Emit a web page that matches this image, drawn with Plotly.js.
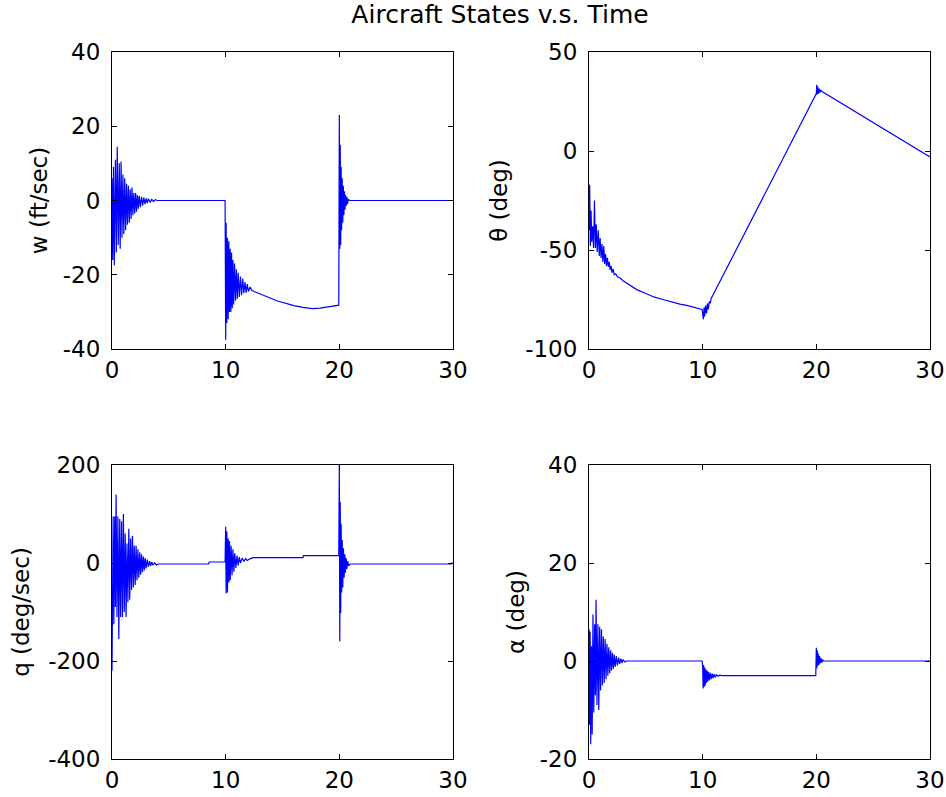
<!DOCTYPE html>
<html>
<head>
<meta charset="utf-8">
<script src="https://cdn.plot.ly/plotly-3.0.1.min.js"></script>
<style>html,body{margin:0;padding:0;background:#fff;}#chart{width:946px;height:797px;}</style>
</head>
<body>
<div id="chart"></div>
<script>
// ---- data ----
const chartTitle = 'Aircraft States v.s. Time';
const panelLabels = ['w (ft/sec)', '\u03b8 (deg)', 'q (deg/sec)', '\u03b1 (deg)'];

const timeTicks = [0, 10, 20, 30];
const wTicks = [-40, -20, 0, 20, 40];
const thetaTicks = [-100, -50, 0, 50];
const qTicks = [-400, -200, 0, 200];
const alphaTicks = [-20, 0, 20, 40];

// w (ft/sec)
const wT = [0,0.06,0.13,0.20,0.30,0.38,0.46,0.55,0.64,0.72,0.80,0.88,0.96,1.04,1.12,1.20,1.28,1.36,1.44,1.52,1.60,1.68,1.76,1.84,1.92,2.00,2.08,2.16,2.24,2.32,2.40,2.50,2.60,2.70,2.80,2.90,3.00,3.10,3.20,3.35,3.50,3.65,3.80,4.00,9.95,
  10.00,10.04,10.10,10.16,10.22,10.28,10.34,10.40,10.46,10.52,10.58,10.64,10.70,10.78,10.86,10.94,11.02,11.10,11.20,11.30,11.40,11.50,11.60,11.70,11.80,11.90,12.00,12.15,12.30,
  12.5,13.0,13.7,14.5,15.2,16.0,16.8,17.6,18.3,19.0,19.95,
  20.00,20.04,20.08,20.12,20.16,20.20,20.25,20.30,20.35,20.40,20.45,20.50,20.55,20.60,20.66,20.72,20.80,20.90,30];
const wV = [6,-16,9,-17.5,11,-14,14.5,-12,10,-13,10.5,-10,7,-9,6,-8,4.5,-6.5,4,-6,3,-5,3.5,-4,2,-3.5,2,-3,1.5,-2.2,1.2,-1.8,1,-1.3,0.8,-1,0.6,-0.7,0.5,-0.5,0.3,-0.3,0.2,0,0,
  -37.5,-6,-33,-10,-32,-11,-30,-13,-30,-14,-29,-16,-28,-17,-27,-18.5,-26.5,-19.5,-26,-20.5,-25.5,-21,-25,-22,-24.8,-22.5,-24.5,-23.3,-24.2,
  -24.5,-25.2,-26.0,-27.0,-27.7,-28.3,-28.8,-29.1,-29.0,-28.6,-28.2,
  23,-13,15,-12,9,-8,6,-6,4,-4,2.5,-2.5,1.5,-1.5,1,-1,0.4,0,0];

// theta (deg)
const thetaT = [0.00,0.06,0.12,0.18,0.24,0.32,0.40,0.48,0.56,0.64,0.72,0.82,0.90,0.98,1.06,1.14,1.22,1.30,1.38,1.46,1.54,1.62,1.70,1.78,1.86,1.94,2.02,2.12,2.22,2.35,2.50,2.70,3.00,
  3.5,4.2,5.0,5.7,6.5,7.2,8.0,8.6,9.3,9.95,
  10.06,10.12,10.18,10.26,10.34,10.42,10.50,10.58,10.66,10.75,
  20.00,20.04,20.08,20.12,20.18,20.25,20.32,20.40,20.50,30];
const thetaV = [-40,-17,-48,-30,-46,-38,-49,-25,-49,-37,-51,-40,-53,-44,-54,-47,-56,-48,-57,-52,-58,-54,-58.5,-56,-60,-58,-61.5,-59.5,-62.5,-62,-63.5,-64,-65.5,
  -67.5,-70,-72,-73.7,-75,-76.2,-77.3,-78,-79,-80,
  -85,-79,-83.5,-78,-82,-77,-80,-76,-77,-74.5,
  29,33.5,28.5,32.5,29,31.5,29.5,30.8,30,-3];

// q (deg/sec)
const qT = [0.00,0.04,0.10,0.16,0.24,0.30,0.36,0.44,0.52,0.60,0.68,0.76,0.84,0.92,1.00,1.08,1.16,1.24,1.32,1.40,1.48,1.56,1.64,1.72,1.80,1.88,1.96,2.04,2.12,2.20,2.28,2.36,2.44,2.52,2.60,2.68,2.76,2.84,2.92,3.00,3.10,3.20,3.30,3.40,3.50,3.60,3.75,3.90,4.10,4.30,8.50,8.55,9.95,
  10.00,10.04,10.10,10.16,10.22,10.28,10.34,10.40,10.48,10.56,10.64,10.72,10.80,10.90,11.00,11.10,11.20,11.30,11.45,11.60,11.75,11.90,12.10,12.40,16.80,16.85,19.95,
  20.00,20.04,20.08,20.12,20.16,20.20,20.25,20.30,20.36,20.42,20.48,20.54,20.60,20.66,20.74,20.82,20.95,29.85,29.9,30];
const qV = [-220,-130,95,-125,95,-90,140,-110,95,-155,90,-110,85,-110,100,-100,60,-110,40,-80,70,-75,50,-55,55,-50,35,-45,35,-35,28,-30,22,-24,18,-19,13,-15,10,-11,7,-8,4,-6,2,-4,0,-4,-2,-2,-2,2,2,
  74,-62,65,-60,50,-40,45,-35,35,-25,28,-18,20,-10,15,-5,12,0,10,3,9,5,8,11,11,15,15,
  200,-160,125,-102,80,-60,47,-50,30,-30,18,-20,10,-12,4,-6,-2,-2,0,-1];

// alpha (deg)
const alphaT = [0.00,0.05,0.10,0.15,0.22,0.28,0.35,0.42,0.50,0.56,0.62,0.70,0.78,0.86,0.94,1.02,1.10,1.18,1.26,1.34,1.42,1.50,1.58,1.66,1.74,1.82,1.90,1.98,2.06,2.14,2.22,2.30,2.40,2.50,2.60,2.70,2.80,2.90,3.00,3.15,3.30,9.95,
  10.00,10.04,10.08,10.12,10.17,10.22,10.28,10.34,10.40,10.46,10.52,10.60,10.68,10.76,10.84,10.92,11.00,11.10,11.20,11.35,11.50,11.70,19.95,
  20.00,20.04,20.08,20.12,20.17,20.22,20.28,20.34,20.40,20.48,20.56,20.65,30];
const alphaV = [6.5,-13,6,-17,3,-15,9.5,-10.5,7.5,-7,12.5,-9,7.5,-10,7,-6,6.5,-5,5,-4.5,4.5,-3.7,3.5,-3,2.8,-2.5,2.2,-2,1.7,-1.6,1.3,-1.2,1,-0.9,0.7,-0.6,0.5,-0.4,0.3,-0.2,0,0,
  -1,-5.6,-0.8,-5.3,-1.3,-5,-1.7,-4.5,-2,-4.2,-2.2,-3.9,-2.4,-3.7,-2.6,-3.5,-2.7,-3.3,-2.8,-3.1,-2.9,-3,-3,
  2.7,-1.5,2.2,-1,1.5,-0.8,1.0,-0.5,0.6,-0.3,0.2,0,0];

// ---- chart ----
const FONT = 'DejaVu Sans, Arial, sans-serif';
const lineStyle = {color: '#0000ff', width: 1.2};
const traces = [
  {x: wT, y: wV, xaxis: 'x', yaxis: 'y'},
  {x: thetaT, y: thetaV, xaxis: 'x2', yaxis: 'y2'},
  {x: qT, y: qV, xaxis: 'x3', yaxis: 'y3'},
  {x: alphaT, y: alphaV, xaxis: 'x4', yaxis: 'y4'}
].map(t => Object.assign(t, {type: 'scatter', mode: 'lines', line: lineStyle, hoverinfo: 'skip'}));

function axisBase(extra) {
  return Object.assign({
    showline: true, linecolor: '#000', linewidth: 1, mirror: 'ticks',
    ticks: 'inside', ticklen: 5, tickwidth: 1, tickcolor: '#000',
    showgrid: false, zeroline: false, fixedrange: true,
    tickfont: {family: FONT, size: 23, color: '#000'},
    ticklabelstandoff: 6
  }, extra);
}
function xAxis(domain, anchor) {
  return axisBase({domain: domain, anchor: anchor, range: [0, 30],
    tickmode: 'array', tickvals: timeTicks, ticktext: timeTicks.map(String),
    ticklabelstandoff: 0});
}
function yAxis(domain, anchor, range, ticks, label, standoff) {
  return axisBase({domain: domain, anchor: anchor, range: range,
    tickmode: 'array', tickvals: ticks, ticktext: ticks.map(String),
    title: {text: label, font: {family: FONT, size: 23, color: '#000'}, standoff: standoff}});
}

const W = 946, H = 797;
const leftX = [112 / W, 453 / W], rightX = [589 / W, 930 / W];
const topY = [1 - 349 / H, 1 - 52 / H], botY = [1 - 759 / H, 1 - 465 / H];

const layout = {
  width: W, height: H,
  margin: {l: 0, r: 0, t: 0, b: 0},
  paper_bgcolor: '#fff', plot_bgcolor: '#fff',
  showlegend: false, hovermode: false,
  font: {family: FONT, color: '#000'},
  title: {text: chartTitle, x: 500 / W, xanchor: 'center', y: 1 - 14 / H, yanchor: 'middle',
          font: {family: FONT, size: 25, color: '#000'}},
  xaxis: xAxis(leftX, 'y'),
  yaxis: yAxis(topY, 'x', [-40, 40], wTicks, panelLabels[0], 8),
  xaxis2: xAxis(rightX, 'y2'),
  yaxis2: yAxis(topY, 'x2', [-100, 50], thetaTicks, panelLabels[1], 11),
  xaxis3: xAxis(leftX, 'y3'),
  yaxis3: yAxis(botY, 'x3', [-400, 200], qTicks, panelLabels[2], 12),
  xaxis4: xAxis(rightX, 'y4'),
  yaxis4: yAxis(botY, 'x4', [-20, 40], alphaTicks, panelLabels[3], 8)
};

Plotly.newPlot('chart', traces, layout, {staticPlot: true, displayModeBar: false});
</script>
</body>
</html>
